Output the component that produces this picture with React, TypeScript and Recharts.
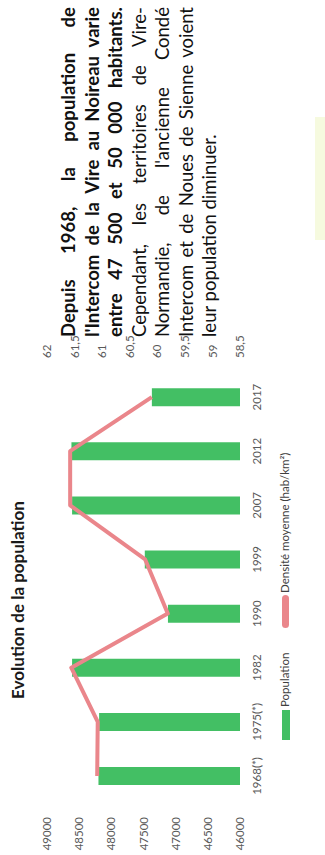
import React from 'react';
import { ComposedChart, Bar, Line, XAxis, YAxis } from 'recharts';

// Données (Intercom de la Vire au Noireau)
const categories = ['1968(*)', '1975(*)', '1982', '1990', '1999', '2007', '2012', '2017'];
const population = [48200, 48190, 48610, 47120, 47480, 48610, 48620, 47370];
const densite = [61.09, 61.08, 61.56, 59.81, 60.22, 61.58, 61.58, 60.1];
const popTicks = [46000, 46500, 47000, 47500, 48000, 48500, 49000];
const densTicks = [58.5, 59, 59.5, 60, 60.5, 61, 61.5, 62];

const paragraphLines = [
  'Depuis 1968, la population de',
  "l'Intercom de la Vire au Noireau varie",
  'entre 47 500 et 50 000 habitants.',
  'Cependant, les territoires de Vire-',
  "Normandie, de l'ancienne Condé",
  'Intercom et de Noues de Sienne voient',
  'leur population diminuer.',
];
const boldLines = 3;

const GREEN = '#43bf64';
const PINK = '#ea868b';
const FONT = 'Lato, "Open Sans", sans-serif';

const data = categories.map((cat, i) => ({
  cat,
  population: population[i],
  densite: densite[i],
}));

const axisTick = { fontSize: 11.5, fill: '#595959', fontFamily: FONT };

function Chart() {
  return (
    <ComposedChart
      width={540}
      height={325}
      data={data}
      margin={{ top: 47, right: 0, bottom: 55, left: 0 }}
    >
      <XAxis
        dataKey="cat"
        axisLine={false}
        tickLine={false}
        tickSize={0}
        tickMargin={13}
        interval={0}
        height={30}
        tick={axisTick}
      />
      <YAxis
        yAxisId="pop"
        domain={[46000, 49000]}
        ticks={popTicks}
        axisLine={false}
        tickLine={false}
        tickSize={0}
        tickMargin={14}
        width={52}
        tick={axisTick}
      />
      <YAxis
        yAxisId="dens"
        orientation="right"
        domain={[58.5, 62]}
        ticks={densTicks}
        axisLine={false}
        tickLine={false}
        tickSize={0}
        tickMargin={12}
        width={55}
        tick={axisTick}
        tickFormatter={(v: number) => String(v).replace('.', ',')}
      />
      <Bar
        yAxisId="pop"
        dataKey="population"
        fill={GREEN}
        barSize={18}
        isAnimationActive={false}
      />
      <Line
        yAxisId="dens"
        dataKey="densite"
        type="linear"
        stroke={PINK}
        strokeWidth={4}
        strokeLinejoin="round"
        dot={false}
        isAnimationActive={false}
      />
    </ComposedChart>
  );
}

export default function App() {
  return (
    <div
      style={{
        position: 'fixed',
        left: 0,
        top: 0,
        width: 325,
        height: 855,
        overflow: 'hidden',
        background: '#fff',
      }}
    >
      {/* la page d'origine est photographiée tournée d'un quart de tour */}
      <div
        style={{
          position: 'absolute',
          left: 0,
          top: 0,
          width: 855,
          height: 325,
          transformOrigin: 'top left',
          transform: 'translateY(855px) rotate(-90deg)',
          background: '#fff',
          fontFamily: FONT,
        }}
      >
        <div
          style={{
            position: 'absolute',
            left: 138,
            top: 7,
            width: 234,
            textAlign: 'center',
            fontSize: 17,
            fontWeight: 700,
            color: '#1a1a1a',
            whiteSpace: 'nowrap',
          }}
        >
          Evolution de la population
        </div>

        <div style={{ position: 'absolute', left: 0, top: 0 }}>
          <Chart />
        </div>

        {/* légende */}
        <div style={{ position: 'absolute', left: 115, top: 278, height: 16, fontSize: 11.5, color: '#404040' }}>
          <div style={{ position: 'absolute', left: 0, top: 4, width: 30, height: 8, background: GREEN }} />
          <div style={{ position: 'absolute', left: 33, top: 0, whiteSpace: 'nowrap' }}>Population</div>
          <div style={{ position: 'absolute', left: 112, top: 4, width: 33, height: 7, borderRadius: 4, background: PINK }} />
          <div style={{ position: 'absolute', left: 147, top: 0, whiteSpace: 'nowrap' }}>
            Densité moyenne (hab/km²)
          </div>
        </div>

        {/* texte */}
        <div
          style={{
            position: 'absolute',
            left: 518,
            top: 57,
            width: 330,
            fontSize: 18.5,
            lineHeight: '23.5px',
            color: '#111',
          }}
        >
          {paragraphLines.map((line, i) => (
            <div
              key={i}
              style={{
                fontWeight: i < boldLines ? 700 : 400,
                textAlign: 'justify',
                textAlignLast: i === paragraphLines.length - 1 ? 'left' : 'justify',
                whiteSpace: 'nowrap',
              }}
            >
              {line}
            </div>
          ))}
        </div>

        <div
          style={{
            position: 'absolute',
            left: 615,
            top: 315,
            width: 123,
            height: 10,
            background: '#f6fadf',
          }}
        />
      </div>
    </div>
  );
}
